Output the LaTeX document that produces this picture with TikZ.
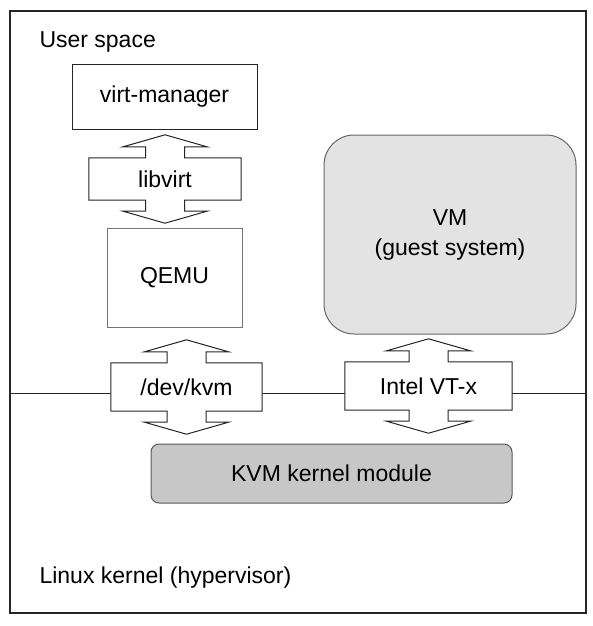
\documentclass[tikz,border=0pt]{standalone}
\usepackage{fontspec}
\setmainfont{Liberation Sans}
\usetikzlibrary{positioning}

% outline of a two-way arrow around a named node, then its label
\newcommand{\gatearrow}[2]{%
    \draw [gateline] (#1.north west) -- ([xshift=-19.5pt]#1.north) -- ([xshift=-19.5pt,yshift=11pt]#1.north)
        -- ([xshift=-42pt,yshift=11pt]#1.north) -- ([yshift=23pt]#1.north) -- ([xshift=42pt,yshift=11pt]#1.north)
        -- ([xshift=19.5pt,yshift=11pt]#1.north) -- ([xshift=19.5pt]#1.north) -- (#1.north east)
        -- (#1.south east) -- ([xshift=19.5pt]#1.south) -- ([xshift=19.5pt,yshift=-11pt]#1.south)
        -- ([xshift=42pt,yshift=-11pt]#1.south) -- ([yshift=-23pt]#1.south) -- ([xshift=-42pt,yshift=-11pt]#1.south)
        -- ([xshift=-19.5pt,yshift=-11pt]#1.south) -- ([xshift=-19.5pt]#1.south) -- (#1.south west) -- cycle;
    \node (#1label) at (#1) {#2};
}

\begin{document}
\begin{tikzpicture}[
    x=1pt, y=-1pt,
    font=\fontsize{23}{30}\selectfont,
    frame/.style={draw=black!85, line width=1.5pt},
    block/.style={rectangle, draw=black!85, line width=1pt, inner sep=0pt},
    plain/.style={rectangle, draw=black!55, line width=1pt, inner sep=0pt},
    guest/.style={rectangle, draw=black!60, fill=black!11, line width=1pt, rounded corners=30pt, inner sep=0pt, align=center},
    module/.style={rectangle, draw=black!65, fill=black!22, line width=1pt, rounded corners=8pt, inner sep=0pt},
    gate/.style={rectangle, inner sep=0pt, minimum height=48pt},
    gateline/.style={draw=black!85, fill=white, line width=1pt, line join=miter},
    split/.style={draw=black!85, line width=1pt}
]
    \useasboundingbox (0,0) rectangle (593,626);

    \draw [frame] (10,11) rectangle (586,613);
    \node [anchor=west] (user) at (36,42) {User space};
    \node [anchor=west] (kernel) at (36,578) {Linux kernel (hypervisor)};

    \coordinate (splitl) at (10,393);
    \coordinate (splitr) at (586,393);
    \draw [split] (splitl) -- (splitr);

    \node [block, minimum width=185pt, minimum height=64pt] (manager) at (164.5,97) {virt-manager};
    \node [plain, minimum width=135pt, minimum height=99pt] (qemu) at (174.5,277.5) {QEMU};
    \node [guest, minimum width=252pt, minimum height=199pt] (vm) at (450,234.5) {VM\\(guest system)};
    \node [module, minimum width=361pt, minimum height=59pt] (kvm) at (331.5,473.5) {KVM kernel module};

    \node [gate, minimum width=152pt, minimum height=42pt] (libvirt) at (165,179) {};
    \node [gate, minimum width=151pt] (devkvm) at (186.5,387) {};
    \node [gate, minimum width=167pt] (vtx) at (428.5,386) {};

    \gatearrow{libvirt}{libvirt}
    \gatearrow{devkvm}{/dev/kvm}
    \gatearrow{vtx}{Intel VT-x}
\end{tikzpicture}
\end{document}
